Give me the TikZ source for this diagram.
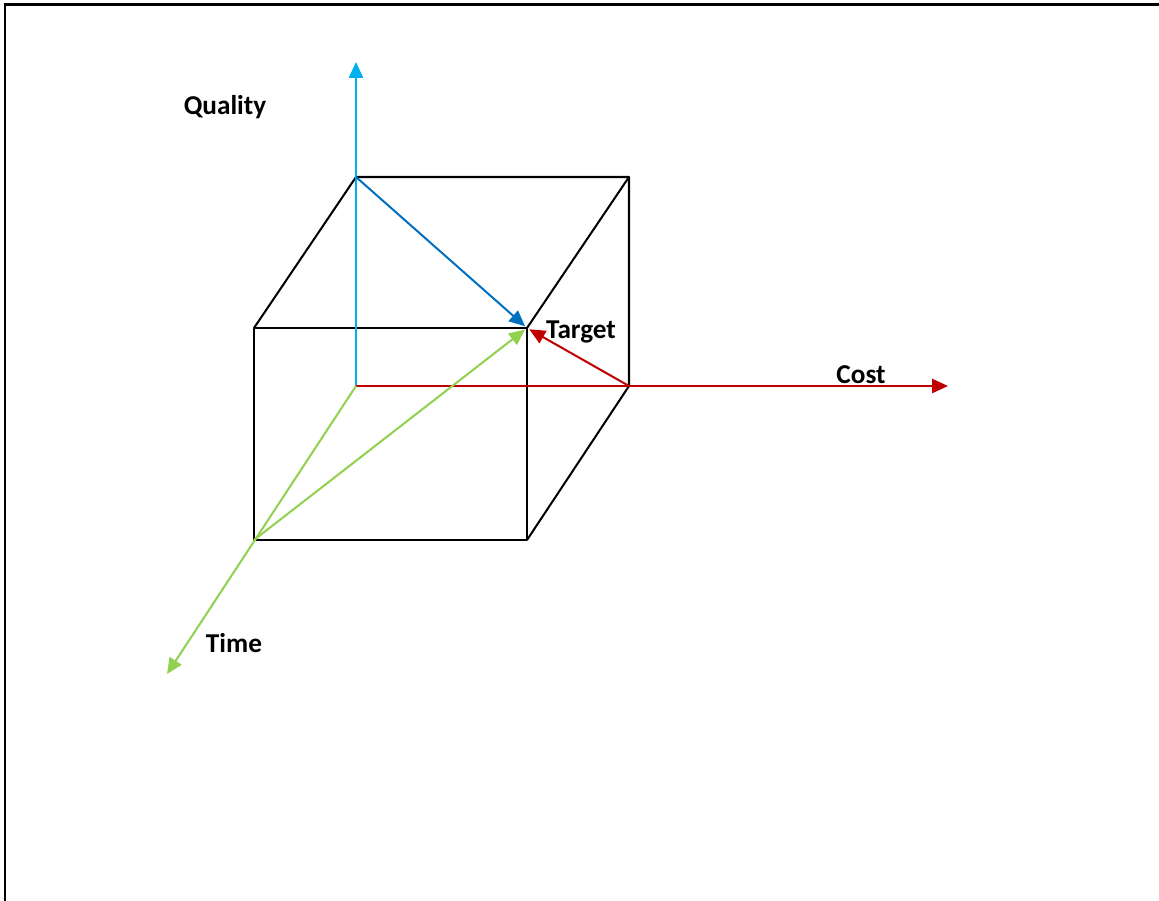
\documentclass[tikz,border=0pt]{standalone}
\usepackage{fontspec}
\setmainfont{Carlito}
\usetikzlibrary{arrows.meta}
\definecolor{ink}{HTML}{000000}
\definecolor{quality}{HTML}{00B0F0}
\definecolor{blue}{HTML}{0070C0}
\definecolor{red}{HTML}{C00000}
\definecolor{green}{HTML}{92D050}
\tikzset{
  >={Triangle[length=9pt,width=8pt]},
  every node/.style={font=\fontsize{15.5}{18}\selectfont\bfseries,text=ink,inner sep=1pt},
  frame/.style={draw=ink,line width=1.7pt},
  edge/.style={draw=ink,line width=1.15pt,line join=round},
  axis/.style={->,line width=1.15pt},
  qualaxis/.style={axis,draw=quality},
  costaxis/.style={axis,draw=red},
  timeaxis/.style={axis,draw=green},
  toward/.style={->,line width=1.15pt,shorten >=1.5pt},
}

\begin{document}
\begin{tikzpicture}[x=0.02cm,y=-0.02cm]
\useasboundingbox (0,0) rectangle (1159,901);
\draw[frame] (5,901) -- (5,5) -- (1159,5);

% cube corners
\coordinate (origin) at (356,386);
\coordinate (ftl) at (254,328);
\coordinate (ftr) at (527,328);
\coordinate (fbr) at (527,540);
\coordinate (fbl) at (254,540);
\coordinate (btl) at (356,177);
\coordinate (btr) at (629,177);
\coordinate (bbr) at (629,386);

% axis ends
\coordinate (qtip) at (356,62);
\coordinate (ctip) at (948,386);
\coordinate (ttip) at (167,674);

% cube
\draw[edge] (ftl) -- (ftr) -- (fbr) -- (fbl) -- cycle;
\draw[edge] (ftl) -- (btl) -- (btr) -- (ftr);
\draw[edge] (btr) -- (bbr) -- (fbr);

% axes
\draw[qualaxis] (origin) -- (qtip);
\draw[costaxis] (origin) -- (ctip);
\draw[timeaxis] (origin) -- (ttip);

% toward the target
\draw[toward,draw=blue] (btl) -- (ftr);
\draw[toward,draw=red] (bbr) -- (ftr);
\draw[toward,draw=green] (fbl) -- (ftr);

\node (qualityLabel) at (225,107) {Quality};
\node (targetLabel) at (581,332) {Target};
\node (costLabel) at (861,375) {Cost};
\node (timeLabel) at (234,643) {Time};

\end{tikzpicture}
\end{document}
